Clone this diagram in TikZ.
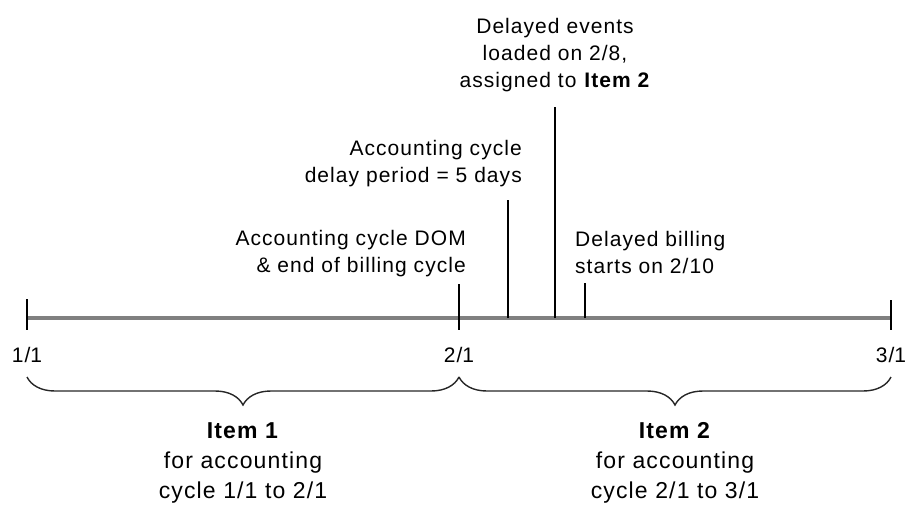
\documentclass[tikz,border=0pt]{standalone}
\usepackage{fontspec}
\setmainfont{Liberation Sans}[LetterSpace=5]
\usetikzlibrary{decorations.pathreplacing,positioning}

\begin{document}
\begin{tikzpicture}[x=1pt, y=-1pt]

  \tikzstyle{axis}  = [draw=black!50, line width=3.5pt]
  \tikzstyle{tick}  = [draw=black, line width=1.4pt]
  \tikzstyle{date}  = [font=\fontsize{21}{27}\selectfont, inner sep=0pt, anchor=base]
  \tikzstyle{note}  = [font=\fontsize{21}{27}\selectfont, inner sep=0pt]
  \tikzstyle{item}  = [font=\fontsize{23}{30}\selectfont, inner sep=0pt, align=center, anchor=base]
  \tikzstyle{brc}   = [draw=black!85, line width=1.4pt, decorate,
                       decoration={brace, mirror, amplitude=28pt}]

  \useasboundingbox (0,0) rectangle (907,504);

  % ---- TIMELINE ----
  \coordinate (t11) at (27,318);
  \coordinate (t21) at (459,318);
  \coordinate (t31) at (891,318);
  \draw[axis] (t11) -- (t31);

  % ---- MONTH TICKS & DATES ----
  \foreach \t/\lbl/\up in {t11/1\slash1/19, t21/2\slash1/34, t31/3\slash1/18}{
    \draw[tick] (\t) ++(0,-\up) -- ++(0,\up+12);
    \node[date] (d\t) at ([yshift=-44pt]\t) {\lbl};
  }

  % ---- NOTES ABOVE THE LINE (placed by last baseline) ----
  \node[note, align=center, anchor=base] (evt) at (555,87)
    {Delayed events\\loaded on 2/8,\\assigned to \textbf{Item 2}};
  \node[note, align=right, anchor=base east] (delay) at (522,182)
    {Accounting cycle\\delay period = 5 days};
  \node[note, align=right, anchor=base east] (dom) at (466,272)
    {Accounting cycle DOM\\\& end of billing cycle};
  \node[note, align=left, anchor=base west] (bill) at (575,273)
    {Delayed billing\\starts on 2/10};

  % ---- DAY TICKS (delay, events, billing) ----
  \coordinate (m1) at (508,318);
  \coordinate (m2) at (555,318);
  \coordinate (m3) at (585,318);
  \draw[tick] (m1) -- ++(0,-118);
  \draw[tick] (m2) -- ++(0,-211);
  \draw[tick] (m3) -- ++(0,-35);

  % ---- BRACES ----
  \coordinate (b0) at (27,377);
  \coordinate (b1) at (459,377);
  \coordinate (b2) at (891,377);
  \draw[brc] (b0) -- (b1);
  \draw[brc] (b1) -- (b2);

  % ---- ITEMS ----
  \node[item] (item1) at (243,498)
    {\textbf{Item 1}\\for accounting\\cycle 1/1 to 2/1};
  \node[item] (item2) at (675,498)
    {\textbf{Item 2}\\for accounting\\cycle 2/1 to 3/1};

\end{tikzpicture}
\end{document}
